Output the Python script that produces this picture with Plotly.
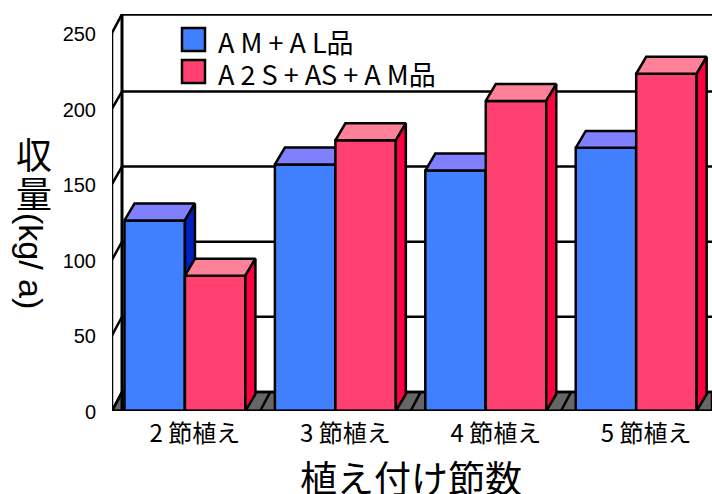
import plotly.graph_objects as go

categories = ["2 節植え", "3 節植え", "4 節植え", "5 節植え"]
series_a_name = "A M + A L品"
series_b_name = "A 2 S + AS + A M品"
series_a = [126, 163, 159, 174]
series_b = [89.5, 179, 205, 223]
y_ticks = [0, 50, 100, 150, 200, 250]
# where each tick's line sits on the back wall
back_levels = [12.5, 62.3, 111.9, 161.6, 211.2, 262.4]

# depth of the pseudo-3D box, in axis units
DX = 0.0665
DY = 11.2
W = 0.402
XMIN, XMAX = -0.485, 3.504
YMAX = 262.5
LW = 2.5
xs = list(range(len(categories)))
L, T, B = 112, 14, 83
PW, PH = 712 - L, 494 - T - B

fig = go.Figure()
AX1 = dict(xaxis="x", yaxis="y")
AX2 = dict(xaxis="x2", yaxis="y2")
AX3 = dict(xaxis="x3", yaxis="y3")


def line(xv, yv, w=LW, **ax):
    fig.add_trace(go.Scatter(x=xv, y=yv, mode="lines", line=dict(color="black", width=w),
                             hoverinfo="skip", showlegend=False, cliponaxis=False, **ax))


def poly(xv, yv, fill, **ax):
    fig.add_trace(go.Scatter(x=xv + [xv[0]], y=yv + [yv[0]], mode="lines", fill="toself",
                             fillcolor=fill, line=dict(color="black", width=LW),
                             hoverinfo="skip", showlegend=False, cliponaxis=False, **ax))


# floor
poly([XMIN, XMAX, XMAX, XMIN + DX], [0, 0, back_levels[0], back_levels[0]], "#666666", **AX1)
for i in xs + [len(xs)]:
    b = i - 0.5
    if b > XMIN:
        line([b, b + DX], [0, back_levels[0]], **AX1)
# back wall and left wall
for v, back in zip(y_ticks, back_levels):
    line([XMIN + DX, XMAX], [back, back], w=3 if v == y_ticks[-1] else LW, **AX1)
    line([XMIN, XMIN + DX], [v, back], **AX1)
line([XMIN, XMIN], [0, y_ticks[-1]], **AX1)
line([XMIN + DX, XMIN + DX], [0, back_levels[-1]], w=3, **AX1)


def bars(vals, off, front, top, side, name, ax):
    fig.add_trace(go.Bar(x=xs, y=vals, width=W, offset=off, name=name,
                         marker=dict(color=front, line=dict(color="black", width=LW)),
                         showlegend=False, **ax))
    for x, v in zip(xs, vals):
        l, r = x + off, x + off + W
        poly([l, r, r + DX, l + DX], [v, v, v + DY, v + DY], top, **ax)
        poly([r, r + DX, r + DX, r], [0, DY, v + DY, v], side, **ax)


bars(series_a, -W, "#4080FF", "#8080FF", "#0020C0", series_a_name, AX2)
bars(series_b, 0, "#FF4070", "#FF8099", "#FF0040", series_b_name, AX3)

CJK = "Noto Sans CJK JP"


def px(x):
    return (x - L) / PW


def py(y):
    return (494 - B - y) / PH


annotations = [dict(text=t, x=px(216), y=py(y), xref="paper", yref="paper",
                    xanchor="left", yanchor="middle", showarrow=False,
                    font=dict(family=CJK, size=27, color="black"))
               for t, y in [(series_a_name, 41), (series_b_name, 73)]]
for text, y, angle, size, cx in [("収", 153, 0, 36, 34), ("量", 192, 0, 36, 34), ("(kg/ a)", 261, 90, 34, 31)]:
    annotations.append(dict(text=text, x=px(cx), y=py(y), xref="paper", yref="paper",
                            xanchor="center", yanchor="middle", showarrow=False, textangle=angle,
                            font=dict(family=CJK if angle == 0 else "Liberation Sans", size=size, color="black")))
annotations.append(dict(text="植え付け節数", x=px(411), y=py(477), xref="paper", yref="paper",
                        xanchor="center", yanchor="middle", showarrow=False,
                        font=dict(family=CJK, size=37, color="black")))

shapes = [dict(type="rect", xref="paper", yref="paper", x0=px(182), x1=px(205),
               y0=py(y0), y1=py(y0 + 23), fillcolor=c, line=dict(color="black", width=LW))
          for y0, c in [(28, "#4080FF"), (60, "#FF4070")]]

base_x = dict(range=[XMIN, XMAX], tickmode="array", tickvals=[x + DX for x in xs], ticktext=categories,
              ticks="", showgrid=False, zeroline=False, showline=False,
              tickfont=dict(family=CJK, size=24, color="black"), ticklabelstandoff=6)
base_y = dict(range=[0, YMAX], tickmode="array", tickvals=y_ticks, ticks="", showgrid=False,
              zeroline=False, showline=False, ticklabelstandoff=15, ticklabelshift=1,
              tickfont=dict(family="Liberation Sans", size=20, color="black"))

fig.update_layout(
    width=712, height=494, autosize=False, margin=dict(l=L, r=0, t=T, b=B),
    paper_bgcolor="white", plot_bgcolor="white", barmode="overlay", showlegend=False,
    xaxis=base_x, yaxis=base_y,
    xaxis2=dict(range=[XMIN, XMAX], overlaying="x", visible=False),
    yaxis2=dict(range=[0, YMAX], overlaying="y", visible=False),
    xaxis3=dict(range=[XMIN, XMAX], overlaying="x", visible=False),
    yaxis3=dict(range=[0, YMAX], overlaying="y", visible=False),
    annotations=annotations, shapes=shapes,
)
# bottom axis line, drawn last
line([XMIN, XMAX], [0, 0], w=3, **AX3)
fig.write_html("out.html", config={"displayModeBar": False},
               post_script="document.body.style.margin='0';document.documentElement.style.overflow='hidden';")
